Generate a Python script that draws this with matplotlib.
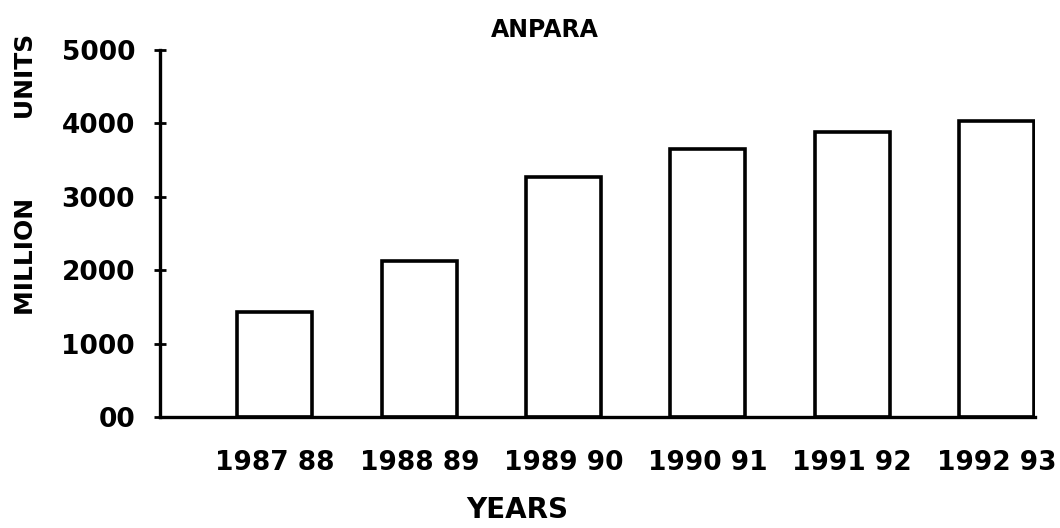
import matplotlib
matplotlib.use("Agg")
from matplotlib import pyplot as plt

years = ['1987 88', '1988 89', '1989 90', '1990 91', '1991 92', '1992 93']
units = [1430, 2130, 3270, 3650, 3890, 4030]
yticks = [0, 1000, 2000, 3000, 4000, 5000]
ytick_labels = ['00', '1000', '2000', '3000', '4000', '5000']

plt.rcParams['font.family'] = 'DejaVu Sans'
plt.rcParams['font.weight'] = 'bold'

fig = plt.figure(figsize=(10.6, 5.28), dpi=100)
ax = fig.add_axes([0.151, 0.2102, 0.825, 0.695])

pos = list(range(len(years)))
ax.bar(pos, units, width=0.52, facecolor='white', edgecolor='black', linewidth=2.6)

ax.set_xlim(-0.796, 5.263)
ax.set_ylim(0, 5000)

ax.spines['top'].set_visible(False)
ax.spines['right'].set_visible(False)
ax.spines['left'].set_linewidth(2.4)
ax.spines['bottom'].set_linewidth(2.4)

ax.set_xticks(pos)
ax.set_xticklabels(years, fontsize=19, fontweight='bold')
ax.tick_params(axis='x', length=0, pad=24)

ax.set_yticks(yticks)
ax.set_yticklabels(ytick_labels, fontsize=19, fontweight='bold')
ax.tick_params(axis='y', direction='inout', length=8, width=2, pad=14)

ax.set_ylabel('MILLION         UNITS', fontsize=18, fontweight='bold')
ax.yaxis.set_label_coords(-0.14, 0.662)

fig.text(545 / 1060, 1 - 30 / 528, 'ANPARA', ha='center', va='center',
         fontsize=17, fontweight='bold')
fig.text(517 / 1060, 1 - 510 / 528, 'YEARS', ha='center', va='center',
         fontsize=20, fontweight='bold')

fig.savefig('out.png', dpi=100, facecolor='white')
